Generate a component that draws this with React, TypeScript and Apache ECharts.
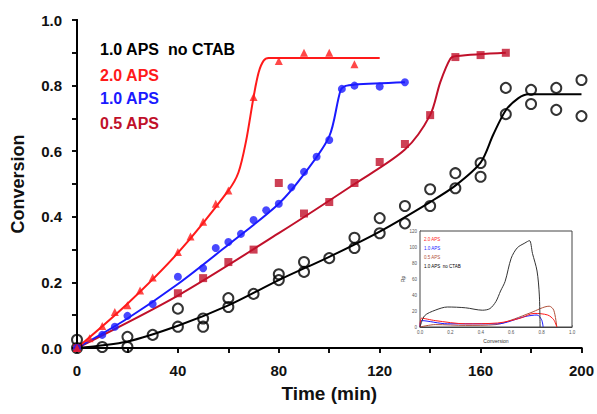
import React, { useEffect, useRef } from "react";
import * as echarts from "echarts";

// Main chart: scatter data (time in min, conversion)
const redT = [0, 5, 10, 15, 20, 25, 30, 40, 45, 50, 55, 60, 70, 80, 90, 100, 110];
const redC = [0, 0.03, 0.067, 0.11, 0.13, 0.175, 0.215, 0.293, 0.34, 0.385, 0.44, 0.48, 0.765, 0.875, 0.9, 0.9, 0.865];

const blueT = [0, 10, 15, 20, 30, 40, 50, 55, 60, 65, 70, 75, 80, 85, 90, 95, 100, 105, 110, 120, 130];
const blueC = [0, 0.04, 0.065, 0.098, 0.134, 0.217, 0.243, 0.305, 0.323, 0.348, 0.39, 0.42, 0.44, 0.49, 0.537, 0.583, 0.634, 0.79, 0.8, 0.797, 0.81];

const darkT = [0, 40, 50, 60, 70, 80, 90, 100, 110, 120, 130, 140, 150, 160, 170];
const darkC = [0, 0.167, 0.213, 0.262, 0.3, 0.503, 0.41, 0.445, 0.503, 0.567, 0.622, 0.71, 0.887, 0.893, 0.9];

const blackT = [0, 0, 10, 20, 20, 30, 40, 40, 50, 50, 60, 60, 70, 80, 80, 90, 90, 100, 110, 110, 120, 120, 130, 130, 140, 140, 150, 150, 160, 160, 170, 170, 180, 180, 190, 190, 200, 200];
const blackC = [0.025, 0.0, 0.003, 0.034, 0.003, 0.04, 0.12, 0.065, 0.09, 0.065, 0.152, 0.125, 0.165, 0.225, 0.207, 0.262, 0.232, 0.274, 0.336, 0.305, 0.396, 0.35, 0.433, 0.38, 0.484, 0.433, 0.533, 0.487, 0.564, 0.522, 0.793, 0.713, 0.787, 0.744, 0.793, 0.726, 0.817, 0.707];

// Fitted curves
const redFitT = [0, 20, 40, 60, 64, 67, 70, 72, 74, 76, 120];
const redFitC = [0, 0.135, 0.29, 0.48, 0.535, 0.63, 0.765, 0.84, 0.876, 0.884, 0.884];

const blueFitT = [0, 20, 40, 60, 80, 90, 100, 104.5, 106.5, 110, 130];
const blueFitC = [0, 0.09, 0.195, 0.315, 0.44, 0.53, 0.645, 0.786, 0.799, 0.803, 0.81];

const darkFitT = [0, 40, 80, 110, 130, 140, 144, 148, 150.5, 170];
const darkFitC = [0, 0.16, 0.35, 0.5, 0.605, 0.71, 0.81, 0.882, 0.89, 0.9];

const blackFitT = [0, 20, 40, 60, 80, 100, 120, 140, 150, 160, 165, 170, 175, 179, 200];
const blackFitC = [0, 0.02, 0.068, 0.13, 0.207, 0.278, 0.355, 0.445, 0.495, 0.565, 0.65, 0.725, 0.762, 0.774, 0.774];

// Inset: Rp vs conversion
const insetBlackX = [0, 0.03, 0.1, 0.18, 0.3, 0.41, 0.46, 0.5, 0.53, 0.56, 0.6, 0.64, 0.69, 0.72, 0.74, 0.77, 0.785, 0.79];
const insetBlackY = [0, 14, 21, 25, 24, 21, 23, 32, 45, 57, 86, 99, 105, 108, 92, 70, 40, 0];
const insetRedX = [0, 0.01, 0.1, 0.3, 0.51, 0.66, 0.75, 0.84, 0.88, 0.9];
const insetRedY = [0, 11, 8, 4, 5, 11, 17, 15, 9, 0];
const insetBlueX = [0, 0.01, 0.18, 0.51, 0.69, 0.77, 0.8, 0.81];
const insetBlueY = [0, 8, 4, 4, 13, 15, 9, 0];
const insetDarkX = [0, 0.1, 0.3, 0.5, 0.62, 0.73, 0.85, 0.88, 0.9];
const insetDarkY = [0, 3, 2, 3, 10, 18, 26, 21, 0];

const legendLabels = ["1.0 APS  no CTAB", "2.0 APS", "1.0 APS", "0.5 APS"];
const insetLegendLabels = ["2.0 APS", "1.0 APS", "0.5 APS", "1.0 APS  no CTAB"];

const RED = "#ff1a1a";
const BLUE = "#1a1aff";
const DARK = "#c0102a";
const BLACK = "#000000";

const zip = (a: number[], b: number[]) => a.map((v, i) => [v, b[i]]);

export default function App() {
  const ref = useRef<HTMLDivElement>(null);
  useEffect(() => {
    if (!ref.current) return;
    const chart = echarts.init(ref.current, undefined, { renderer: "svg" });
    const font = "Arial, 'Liberation Sans', sans-serif";
    const lbl = { fontFamily: font, fontWeight: "bold", fontSize: 15, color: "#111" };
    const axLine = { show: true, lineStyle: { color: "#000", width: 2 } };

    const lineSeries = (t: number[], c: number[], color: string) => ({
      type: "line",
      data: zip(t, c),
      smooth: 0.3,
      symbol: "none",
      lineStyle: { color, width: 2 },
      xAxisIndex: 0,
      yAxisIndex: 0,
      z: 2,
      silent: true,
    });
    const insetLine = (x: number[], y: number[], color: string) => ({
      type: "line",
      data: zip(x, y),
      smooth: 0.3,
      symbol: "none",
      lineStyle: { color, width: 1 },
      xAxisIndex: 2,
      yAxisIndex: 2,
      z: 5,
      silent: true,
    });

    const legendColors = [BLACK, RED, BLUE, DARK];
    const legendY = [50, 76, 99, 124];
    const insetColors = [RED, BLUE, "#b0503a", BLACK];
    const insetY = [240, 249, 258, 267];

    chart.setOption({
      animation: false,
      backgroundColor: "#fff",
      grid: [
        { left: 77, top: 20, right: 12, bottom: 66, show: false },
        { left: 420, top: 231, width: 152, height: 96, show: true, borderColor: "#444", borderWidth: 1, backgroundColor: "#fff", z: 4 },
      ],
      xAxis: [
        {
          type: "value", gridIndex: 0, min: 0, max: 200, interval: 40,
          name: "Time (min)", nameLocation: "middle", nameGap: 36,
          nameTextStyle: { fontFamily: font, fontWeight: "bold", fontSize: 19, color: "#111", verticalAlign: "top" },
          axisLine: axLine,
          axisTick: { show: true, length: 5, lineStyle: { color: "#000", width: 1.5 } },
          minorTick: { show: true, splitNumber: 2, length: 5, lineStyle: { color: "#000", width: 1.5 } },
          axisLabel: { ...lbl, margin: 15 },
          splitLine: { show: false },
        },
        {
          type: "value", gridIndex: 0, min: 0, max: 200, interval: 20, position: "top",
          axisLine: axLine,
          axisTick: { show: true, inside: true, length: 5, lineStyle: { color: "#000", width: 1.5 } },
          axisLabel: { show: false },
          splitLine: { show: false },
        },
        {
          type: "value", gridIndex: 1, min: 0, max: 1, interval: 0.2,
          name: "Conversion", nameLocation: "middle", nameGap: 11,
          nameTextStyle: { fontFamily: font, fontSize: 5, color: "#333" },
          axisLine: { show: true, lineStyle: { color: "#444", width: 1 } },
          axisTick: { show: true, inside: true, length: 2, lineStyle: { color: "#444", width: 0.5 } },
          axisLabel: { fontFamily: font, fontSize: 4.5, color: "#555", margin: 3, formatter: (v: number) => v.toFixed(1) },
          splitLine: { show: false },
        },
      ],
      yAxis: [
        {
          type: "value", gridIndex: 0, min: 0, max: 1, interval: 0.2,
          name: "Conversion", nameLocation: "middle", nameGap: 50,
          nameTextStyle: { fontFamily: font, fontWeight: "bold", fontSize: 18, color: "#111" },
          axisLine: axLine,
          axisTick: { show: true, length: 5, lineStyle: { color: "#000", width: 1.5 } },
          minorTick: { show: true, splitNumber: 2, length: 5, lineStyle: { color: "#000", width: 1.5 } },
          axisLabel: { ...lbl, margin: 15, formatter: (v: number) => v.toFixed(1) },
          splitLine: { show: false },
        },
        {
          type: "value", gridIndex: 0, min: 0, max: 1, interval: 0.1, position: "right",
          axisLine: axLine,
          axisTick: { show: true, inside: true, length: 5, lineStyle: { color: "#000", width: 1.5 } },
          axisLabel: { show: false },
          splitLine: { show: false },
        },
        {
          type: "value", gridIndex: 1, min: 0, max: 120, interval: 20,
          name: "Rp", nameLocation: "middle", nameGap: 9,
          nameTextStyle: { fontFamily: font, fontSize: 5, color: "#333" },
          axisLine: { show: true, lineStyle: { color: "#444", width: 1 } },
          axisTick: { show: true, inside: true, length: 2, lineStyle: { color: "#444", width: 0.5 } },
          axisLabel: { fontFamily: font, fontSize: 4.5, color: "#555", margin: 3 },
          splitLine: { show: false },
        },
      ],
      series: [
        lineSeries(blackFitT, blackFitC, BLACK),
        lineSeries(darkFitT, darkFitC, DARK),
        lineSeries(blueFitT, blueFitC, BLUE),
        lineSeries(redFitT, redFitC, RED),
        {
          type: "scatter", data: zip(blackT, blackC), symbol: "circle", symbolSize: 10,
          itemStyle: { color: "rgba(255,255,255,0)", borderColor: BLACK, borderWidth: 2 }, z: 3,
        },
        {
          type: "scatter", data: zip(darkT, darkC), symbol: "rect", symbolSize: 8,
          itemStyle: { color: DARK }, z: 3,
        },
        {
          type: "scatter", data: zip(blueT, blueC), symbol: "circle", symbolSize: 8,
          itemStyle: { color: BLUE }, z: 3,
        },
        {
          type: "scatter", data: zip(redT, redC), symbol: "triangle", symbolSize: 8,
          itemStyle: { color: RED }, z: 3,
        },
        insetLine(insetDarkX, insetDarkY, "#b0503a"),
        insetLine(insetBlueX, insetBlueY, BLUE),
        insetLine(insetRedX, insetRedY, RED),
        insetLine(insetBlackX, insetBlackY, "#333"),
      ],
      graphic: [
        ...legendLabels.map((t, i) => ({
          type: "text", left: 100, top: legendY[i] - 9, z: 10,
          style: { text: t, fill: legendColors[i], font: `bold 16px ${font}` },
        })),
        ...insetLegendLabels.map((t, i) => ({
          type: "text", left: 424, top: insetY[i] - 3, z: 10,
          style: { text: t, fill: insetColors[i], font: `4.5px ${font}` },
        })),
      ],
    });
    return () => chart.dispose();
  }, []);
  return <div ref={ref} style={{ position: "absolute", left: 0, top: 0, width: 597, height: 414 }} />;
}
